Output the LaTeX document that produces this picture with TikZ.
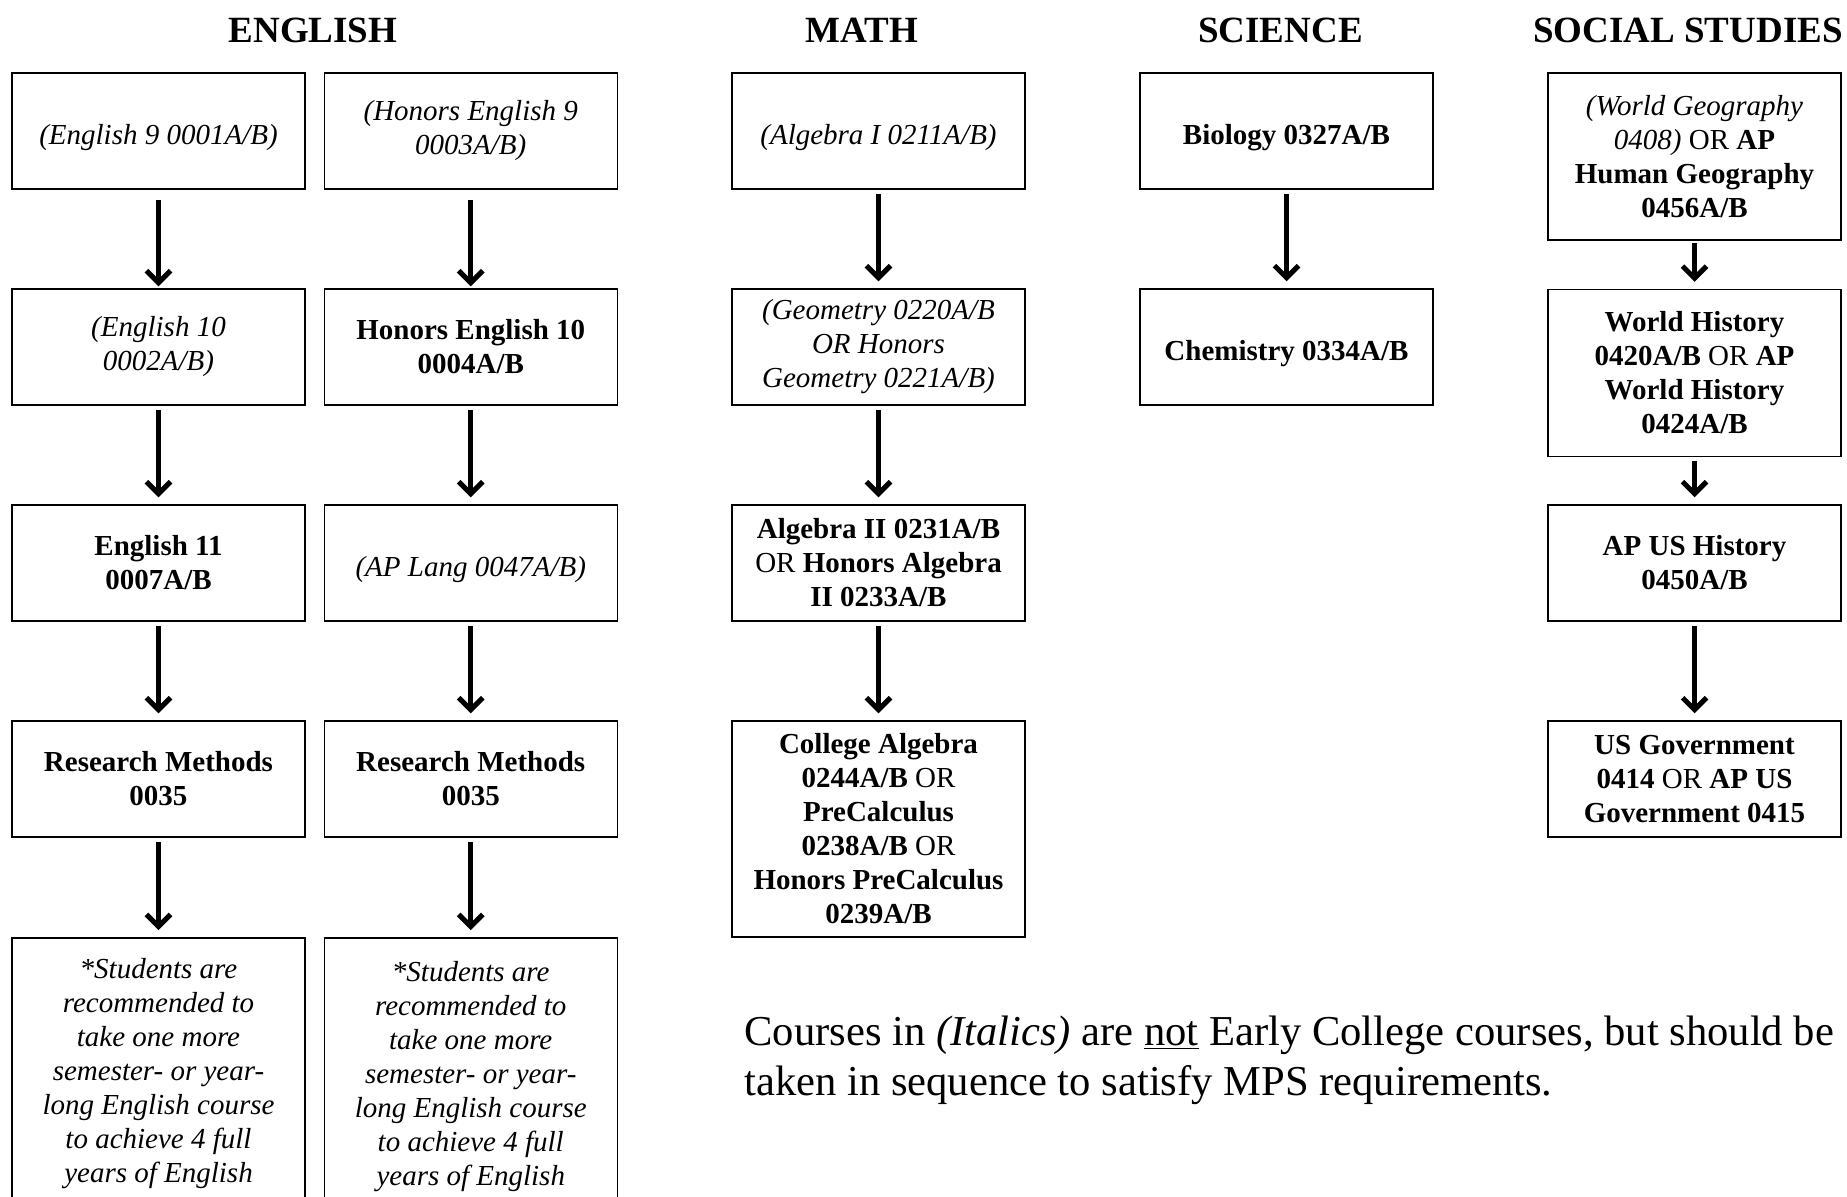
\documentclass[tikz,border=0pt]{standalone}
\usepackage{fontspec}
\setmainfont{Liberation Serif}
\usetikzlibrary{arrows.meta}
\newcommand{\boxfont}{\fontsize{14.5}{17}\selectfont}
\begin{document}
\begin{tikzpicture}[x=0.5pt,y=-0.5pt,
  title/.style={anchor=base,font=\fontsize{18.5}{22}\selectfont\bfseries,inner sep=0pt},
  course/.style={draw,line width=0.75pt,minimum width=146.5pt,minimum height=58pt,
    align=center,inner sep=0pt,font=\boxfont},
  ital/.style={course,font=\boxfont\itshape},
  bold/.style={course,font=\boxfont\bfseries},
  oneline/.style={text height=13.6pt,text depth=0pt},
  tall/.style={minimum height=83.5pt},
  arr/.style={line width=2.5pt,-{Straight Barb[length=6pt,width=12pt]},
    shorten <=2pt,shorten >=3.5pt},
  arrA/.style={arr,shorten <=5pt,shorten >=1pt},
  arrB/.style={arr,shorten <=1pt,shorten >=3.5pt}]
\useasboundingbox (0,0) rectangle (1847,1196);
\clip (0,0) rectangle (1847,1196);
\fill[white] (0,0) rectangle (1847,1196);

% titles
\node[title] (tEng) at (313,42) {ENGLISH};
\node[title] (tMath) at (862,42) {MATH};
\node[title] (tSci) at (1280.5,42) {SCIENCE};
\node[title] (tSoc) at (1688,42) {SOCIAL STUDIES};

% English left
\node[ital,oneline] (e1) at (158.5,131) {(English 9 0001A/B)};
\node[ital] (e2) at (158.5,347) {(English 10\\0002A/B)};
\node[bold] (e3) at (158.5,563) {English 11\\0007A/B};
\node[bold] (e4) at (158.5,779) {Research Methods\\0035};
\node[ital,anchor=north,minimum height=136pt] (e5) at (158.5,937)
  {*Students are\\recommended to\\take one more\\semester- or year-\\long English course\\to achieve 4 full\\years of English};

% English right
\node[ital] (h1) at (470.75,131) {(Honors English 9\\0003A/B)};
\node[bold] (h2) at (470.75,347) {Honors English 10\\0004A/B};
\node[ital,oneline] (h3) at (470.75,563) {(AP Lang 0047A/B)};
\node[bold] (h4) at (470.75,779) {Research Methods\\0035};
\node[ital,anchor=north,minimum height=139pt] (h5) at (470.75,937)
  {*Students are\\recommended to\\take one more\\semester- or year-\\long English course\\to achieve 4 full\\years of English};

% Math
\node[ital,oneline] (m1) at (878.5,131) {(Algebra I 0211A/B)};
\node[ital] (m2) at (878.5,347) {(Geometry 0220A/B\\OR Honors\\Geometry 0221A/B)};
\node[course] (m3) at (878.5,563) {\textbf{Algebra II 0231A/B}\\OR \textbf{Honors Algebra}\\\textbf{II 0233A/B}};
\node[course,minimum height=108pt] (m4) at (878.5,829)
  {\textbf{College Algebra}\\\textbf{0244A/B} OR\\\textbf{PreCalculus}\\\textbf{0238A/B} OR\\\textbf{Honors PreCalculus}\\\textbf{0239A/B}};

% Science
\node[bold,oneline] (s1) at (1286.5,131) {Biology 0327A/B};
\node[bold,oneline] (s2) at (1286.5,347) {Chemistry 0334A/B};

% Social studies
\node[course,tall] (o1) at (1694.5,156.5)
  {\textit{(World Geography}\\\textit{0408)} OR \textbf{AP}\\\textbf{Human Geography}\\\textbf{0456A/B}};
\node[course,tall] (o2) at (1694.5,373)
  {\textbf{World History}\\\textbf{0420A/B} OR \textbf{AP}\\\textbf{World History}\\\textbf{0424A/B}};
\node[bold] (o3) at (1694.5,563) {AP US History\\0450A/B};
\node[course] (o4) at (1694.5,779) {\textbf{US Government}\\\textbf{0414} OR \textbf{AP US}\\\textbf{Government 0415}};

% arrows
\draw[arrA] (e1) -- (e2);
\draw[arr] (e2) -- (e3);
\draw[arr] (e3) -- (e4);
\draw[arr] (e4) -- (e5);
\draw[arrA] (h1) -- (h2);
\draw[arr] (h2) -- (h3);
\draw[arr] (h3) -- (h4);
\draw[arr] (h4) -- (h5);
\draw[arr] (m1) -- (m2);
\draw[arr] (m2) -- (m3);
\draw[arr] (m3) -- (m4);
\draw[arr] (s1) -- (s2);
\draw[arrB] (o1) -- (o2);
\draw[arr] (o2) -- (o3);
\draw[arr] (o3) -- (o4);

% note
\node[anchor=base west,align=left,inner sep=0pt,font=\fontsize{21.3}{24.7}\selectfont] (note) at (744,1095)
  {Courses in \textit{(Italics)} are \underline{not} Early College courses, but should be\\taken in sequence to satisfy MPS requirements.};
\end{tikzpicture}
\end{document}
